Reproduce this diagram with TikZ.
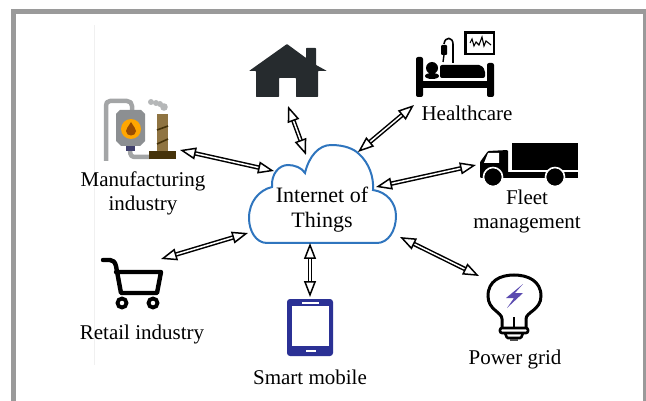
\documentclass[tikz,border=0pt]{standalone}
\usepackage{fontspec}
\setmainfont{Liberation Serif}
\usetikzlibrary{arrows.meta}
\definecolor{framegray}{HTML}{9A9A9A}
\definecolor{cloudblue}{HTML}{2F75BE}
\definecolor{housedark}{HTML}{262B2E}
\definecolor{phoneblue}{HTML}{2B3195}
\definecolor{boltblue}{HTML}{5B4BB0}
\definecolor{pipegray}{HTML}{A3A5A6}
\definecolor{tankgray}{HTML}{8C8F92}
\definecolor{stackbrown}{HTML}{8F7442}
\definecolor{basebrown}{HTML}{46330A}
\tikzset{
  link/.style={double=white,double distance=1.5pt,line width=1.5pt,
    {Triangle[open,fill=white,length=16pt,width=12pt]}-{Triangle[open,fill=white,length=16pt,width=12pt]}},
  lab/.style={align=center,inner sep=0pt,font=\fontsize{21}{24}\selectfont},
  cloudlab/.style={align=center,inner sep=0pt,font=\fontsize{22}{25}\selectfont},
}

\begin{document}
\begin{tikzpicture}[x=1pt,y=-1pt]
\useasboundingbox (0,0) rectangle (646,401);

\draw[framegray,line width=5pt] (13.5,402) -- (13.5,11.5) -- (645,11.5);
\fill[framegray] (643,9) rectangle (646,401);
\draw[gray!12,line width=0.6pt] (94,25) -- (94,365);

\draw[cloudblue,line width=2pt,fill=white] (267,243)
  .. controls (256,243) and (249,231) .. (249,218)
  .. controls (249,202) and (259,190) .. (272,187)
  .. controls (271,174) and (279,165) .. (288,165)
  .. controls (295,165) and (302,168) .. (305,173)
  .. controls (309,156) and (319,145) .. (331,145)
  .. controls (345,145) and (354,149) .. (359,154)
  .. controls (369,163) and (374,177) .. (373,190)
  .. controls (387,192) and (396,203) .. (396,216)
  .. controls (396,231) and (388,243) .. (377,243)
  -- cycle;
\node[cloudlab] (iot) at (322,210) {Internet of\\Things};

\fill[housedark,rounded corners=0.6pt] (287,44) -- (306,58) -- (306,48) -- (316,48) -- (316,65)
  -- (327,71) -- (318,71) -- (318,97) -- (296,97) -- (296,78) -- (279,78) -- (279,97)
  -- (256,97) -- (256,71) -- (249,71) -- cycle;

\fill[black,rounded corners=2pt] (416,57) rectangle (423,97);
\fill[black,rounded corners=2pt] (487,63) rectangle (494,97);
\fill[black] (420,81) rectangle (490,88);
\fill[black,rounded corners=2pt] (440,65) -- (481,65) -- (485,70) -- (485,78) -- (440,78) -- cycle;
\fill[black] (432,68) circle (6);
\fill[black] (432,76) ellipse (7 and 3);
\draw[black,line width=2.6pt,fill=white] (465.3,32.3) rectangle (494,54);
\draw[black,line width=1.1pt] (470,43) -- (472,39) -- (474,46) -- (476,42) -- (479,45) -- (482,37) -- (484,46) -- (486,41) -- (491,45);
\draw[black,line width=1.6pt] (453,63) -- (453,44) .. controls (453,37) and (445,36) .. (444,44);
\fill[black,rounded corners=1pt] (441,45) rectangle (447,55);
\draw[black,line width=1.4pt] (444,55) -- (443,62);

\fill[black] (512,143) rectangle (578,170);
\fill[black] (505,172) rectangle (578,178);
\fill[black,rounded corners=1pt] (480,178) -- (480,162) -- (488,151) -- (508,150) -- (508,178) -- cycle;
\fill[white] (488,153) -- (499,153) -- (499,163) -- (484,163) -- cycle;
\draw[fill=black,line width=1.6pt,draw=white] (493,177) circle (9.5);
\draw[fill=black,line width=1.6pt,draw=white] (555,177) circle (9.5);

\draw[black,line width=4.4pt,line join=round,line cap=round] (103,260) -- (110,260)
  .. controls (113,260) and (115,262) .. (116,266) -- (121,293) -- (157,293) -- (161,272) -- (116,272);
\draw[black,line width=3.8pt] (122,303) circle (4.5);
\draw[black,line width=3.8pt] (153,303) circle (4.5);

\fill[phoneblue,rounded corners=3pt] (287,299) rectangle (333,356);
\fill[white] (292,306) rectangle (329,346);
\fill[white] (302,301.5) rectangle (319,303.5);
\fill[white] (306,350) rectangle (316,352);

\draw[black,line width=3pt] (526,328) -- (526,319) .. controls (526,312) and (541,310) .. (541,296)
  .. controls (541,281) and (528,275) .. (514,275)
  .. controls (500,275) and (488,281) .. (488,296)
  .. controls (488,310) and (502,312) .. (502,319) -- (502,328);
\draw[black,line width=2.6pt] (514,317) -- (514,328);
\draw[black,line width=2.6pt,rounded corners=2pt] (500,328) rectangle (528,333);
\draw[black,line width=2.6pt,rounded corners=1pt] (505,333) -- (507,338) -- (521,338) -- (523,333);
\fill[black!70] (510,339) rectangle (518,341);
\fill[boltblue] (523,284) -- (506,298) -- (514,298) -- (507,308) -- (523,293) -- (515,293) -- cycle;

\draw[pipegray,line width=4.5pt,line join=round] (106,161) -- (106,106) .. controls (106,103) and (107,101) .. (110,101)
  -- (127,101) .. controls (130,101) and (132,103) .. (132,106) -- (132,111);
\draw[pipegray,line width=4.5pt] (130,150) .. controls (130,156) and (132,157) .. (136,157) -- (150,157);
\fill[tankgray] (120,110) -- (141,110) -- (145,114) -- (145,141) -- (140,146) -- (121,146) -- (116,141) -- (116,114) -- cycle;
\fill[black!65!blue!50!gray] (126,146) rectangle (135,151);
\fill[orange!70!yellow] (131,129) circle (10);
\fill[orange!60!black] (131,122) .. controls (134,127) and (136,129) .. (136,131) .. controls (136,137) and (126,137) .. (126,131) .. controls (126,129) and (128,127) .. (131,122) -- cycle;
\fill[stackbrown] (157,114) rectangle (168,151);
\draw[basebrown,line width=1.6pt] (157,130) -- (168,126);
\draw[basebrown,line width=1.6pt] (157,144) -- (168,139);
\fill[basebrown] (149,151) rectangle (176,159);
\fill[pipegray!80] (151,102) circle (3);
\fill[pipegray!80] (156,103) circle (3);
\fill[pipegray!80] (160,104) circle (3);
\fill[pipegray!80] (164,107) circle (3.8);

\node[lab] (mfg) at (143,193) {Manufacturing\\industry};
\node[lab] (care) at (467,113) {Healthcare};
\node[lab] (fleet) at (527,211) {Fleet\\management};
\node[lab] (retail) at (142,334) {Retail industry};
\node[lab] (mobile) at (310,377) {Smart mobile};
\node[lab] (grid) at (515,359) {Power grid};

\coordinate (home1) at (288,106);
\coordinate (home2) at (306,155);
\coordinate (mfg1) at (180,150);
\coordinate (mfg2) at (274,171);
\coordinate (care1) at (414,105);
\coordinate (care2) at (358,152);
\coordinate (fleet1) at (476,165);
\coordinate (fleet2) at (376,187);
\coordinate (retail1) at (248,233);
\coordinate (retail2) at (161,259);
\coordinate (mobile1) at (310,243);
\coordinate (mobile2) at (310,297);
\coordinate (grid1) at (400,237);
\coordinate (grid2) at (479,276);

\foreach \a in {home,mfg,care,fleet,retail,mobile,grid}
  \draw[link] (\a1) -- (\a2);

\end{tikzpicture}
\end{document}
